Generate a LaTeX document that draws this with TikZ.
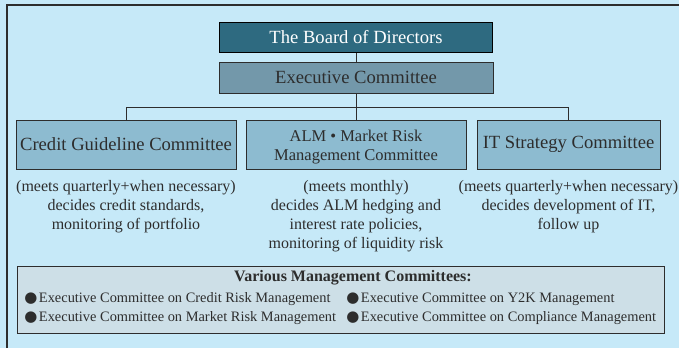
\documentclass[tikz,border=0pt]{standalone}
\usepackage{fontspec}
\setmainfont{Liberation Serif}
\newfontfamily\dotfont{DejaVu Sans}
\usepackage{tikz}
\usetikzlibrary{positioning}

\definecolor{pagebg}{RGB}{198,233,248}
\definecolor{boardfill}{RGB}{46,106,128}
\definecolor{execfill}{RGB}{115,152,170}
\definecolor{comfill}{RGB}{141,187,208}
\definecolor{listfill}{RGB}{205,223,231}
\definecolor{inkgrey}{RGB}{45,45,45}

\newcommand{\blackdot}{{\dotfont\fontsize{15}{17}\selectfont ●}\hspace{1.5pt}}

\begin{document}
\begin{tikzpicture}[
  x=1pt, y=-1pt,
  line width=0.8pt, % line style
  node distance = 11pt % distance between box and note
  ]

  \tikzstyle{boardbox}=[
    draw = black, line width=1.6pt, fill = boardfill, text = white,
    minimum width = 273pt, minimum height = 30pt, inner sep = 0pt,
    font = \fontsize{18.6}{22}\selectfont
  ]
  \tikzstyle{execbox}=[
    draw = inkgrey, fill = execfill, text = inkgrey,
    minimum width = 274pt, minimum height = 31pt, inner sep = 0pt,
    font = \fontsize{18.6}{22}\selectfont
  ]
  \tikzstyle{combox}=[
    draw = inkgrey, fill = comfill, text = inkgrey,
    minimum height = 49pt, inner sep = 0pt,
    font = \fontsize{18.6}{22}\selectfont
  ]
  \tikzstyle{note}=[
    text = inkgrey, align = center, inner sep = 0pt,
    font = \fontsize{16}{19}\selectfont
  ]
  \tikzstyle{connector}=[draw = inkgrey, line width = 0.8pt]
  \tikzstyle{listitem}=[
    anchor = west, text = inkgrey, inner sep = 0pt,
    font = \fontsize{14.4}{17}\selectfont
  ]

\useasboundingbox (0,0) rectangle (679,348);
\fill[pagebg] (0,0) rectangle (679,348);
\draw[inkgrey, line width=1.2pt] (7,348) -- (7,5) -- (679,5);

\node[boardbox] (board) at (356,37.5) {The Board of Directors};
\node[execbox] (exec) at (356,77.5) {Executive Committee};
\coordinate (bar) at (356,107);

\node[combox, minimum width=220pt] (credit) at (126,144.5) {Credit Guideline Committee};
\node[combox, minimum width=220pt, font=\fontsize{16.5}{18.5}\selectfont] (alm) at (356,144.5)
  {\raisebox{-3pt}[\height][\depth]{\begin{tabular}{@{}c@{}}ALM • Market Risk\\Management Committee\end{tabular}}};
\node[combox, minimum width=183pt] (itc) at (568.5,144.5) {IT Strategy Committee};

\draw[connector] (board) -- (exec);
\draw[connector] (exec) -- (bar);
\draw[connector] (bar) -| (credit);
\draw[connector] (bar) -| (itc);
\draw[connector] (bar) -- (alm);

\node[note, below=of credit] (creditnote) {(meets quarterly+when necessary)\\decides credit standards,\\monitoring of portfolio};
\node[note, below=of alm] (almnote) {(meets monthly)\\decides ALM hedging and\\interest rate policies,\\monitoring of liquidity risk};
\node[note, below=of itc] (itnote) {(meets quarterly+when necessary)\\decides development of IT,\\follow up};

\node[draw=inkgrey, fill=listfill, minimum width=647pt, minimum height=67pt,
      inner sep=0pt] (various) at (340.5,299.5) {};
\node[text=inkgrey, font=\fontsize{16}{19}\selectfont\bfseries] (listhead) at (353,277.5) {Various Management Committees:};
\node[listitem] (creditrisk) at (24,299) {\blackdot Executive Committee on Credit Risk Management};
\node[listitem] (marketrisk) at (24,318) {\blackdot Executive Committee on Market Risk Management};
\node[listitem] (ytwok) at (346,299) {\blackdot Executive Committee on Y2K Management};
\node[listitem] (compliance) at (346,318) {\blackdot Executive Committee on Compliance Management};
\end{tikzpicture}
\end{document}
